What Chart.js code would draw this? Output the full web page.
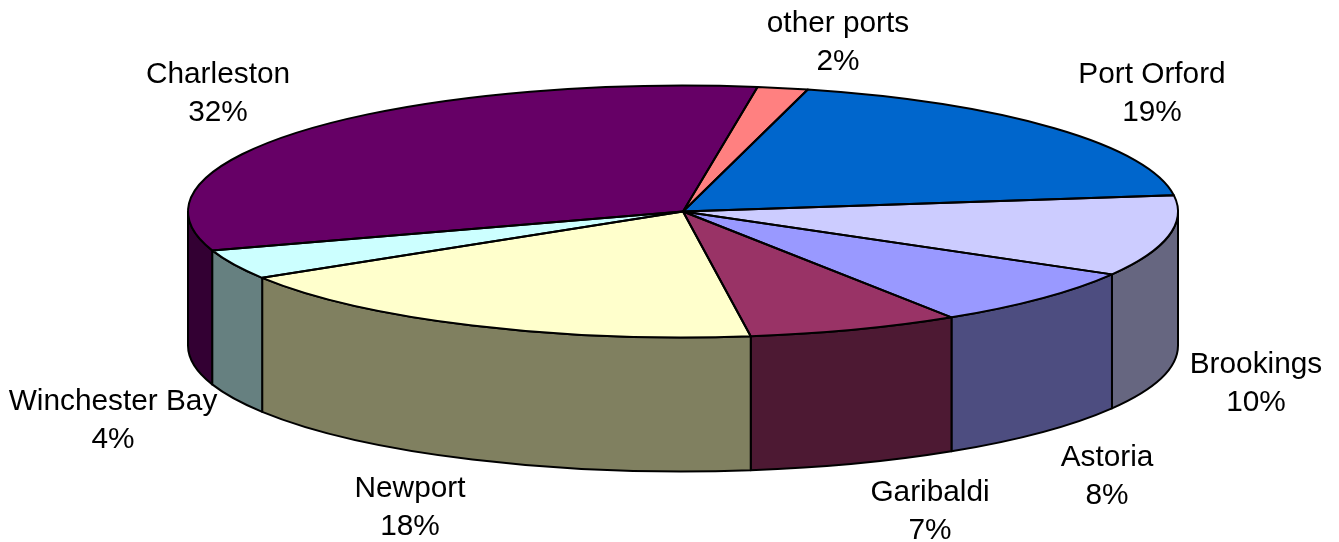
<!DOCTYPE html>
<html><head><meta charset="utf-8">
<style>html,body{margin:0;padding:0;background:#fff}canvas{display:block}</style>
<script src="https://cdn.jsdelivr.net/npm/chart.js@4"></script>
</head><body>
<canvas id="c" width="1339" height="542"></canvas>
<script>
const categories = ['Port Orford','Brookings','Astoria','Garibaldi','Newport','Winchester Bay','Charleston','other ports'];
const shares = [18.9,10.36,7.56,6.94,18.36,3.83,32.4,1.65];
const topColors = ['#0066cc','#ccccff','#9999ff','#993366','#ffffcc','#ccffff','#660066','#ff8080'];
const wallColors = ['#003366','#666680','#4d4d80','#4d1933','#808060','#668080','#330033','#804040'];
const labelAnchors = [[1152,75],[1256,365],[1107,458],[930,493],[410,489],[113,402],[218,75],[838,24]];

const squash = 126/495, depth = 134, lineW = 2;
const pie3d = {
  id:'pie3d',
  beforeDatasetsDraw(chart){
    const ctx = chart.ctx, arcs = chart.getDatasetMeta(0).data;
    ctx.save();
    ctx.lineWidth = lineW; ctx.strokeStyle = '#000'; ctx.lineJoin='round';
    arcs.forEach((a,i)=>{
      const p = a.getProps(['x','y','startAngle','endAngle','outerRadius']);
      [[0,Math.PI],[2*Math.PI,3*Math.PI],[-2*Math.PI,-Math.PI]].forEach(([lo,hi])=>{
        const s = Math.max(p.startAngle,lo), e = Math.min(p.endAngle,hi);
        if(e<=s) return;
        const ry = p.outerRadius*squash;
        ctx.beginPath();
        ctx.ellipse(p.x,p.y,p.outerRadius,ry,0,s,e);
        ctx.ellipse(p.x,p.y+depth,p.outerRadius,ry,0,e,s,true);
        ctx.closePath();
        ctx.fillStyle = wallColors[i];
        ctx.fill(); ctx.stroke();
      });
    });
    ctx.restore();
    ctx.save();
    const a0 = arcs[0];
    ctx.translate(a0.x,a0.y); ctx.scale(1,squash); ctx.translate(-a0.x,-a0.y);
  },
  afterDatasetsDraw(chart){
    const ctx = chart.ctx, arcs = chart.getDatasetMeta(0).data;
    ctx.restore();
    ctx.save();
    ctx.lineWidth = lineW; ctx.strokeStyle = '#000'; ctx.lineJoin='round';
    arcs.forEach(a=>{
      const p = a.getProps(['x','y','startAngle','endAngle','outerRadius']);
      ctx.beginPath();
      ctx.moveTo(p.x,p.y);
      ctx.ellipse(p.x,p.y,p.outerRadius,p.outerRadius*squash,0,p.startAngle,p.endAngle);
      ctx.closePath();
      ctx.stroke();
    });
    ctx.fillStyle='#000';
    ctx.font='29.8px "Liberation Sans", Arial, sans-serif';
    ctx.textAlign='center'; ctx.textBaseline='middle';
    categories.forEach((name,i)=>{
      const [x,y]=labelAnchors[i];
      ctx.fillText(name,x,y);
      ctx.fillText(Math.round(shares[i])+'%',x,y+38);
    });
    ctx.restore();
  }
};
new Chart(document.getElementById('c'),{
  type:'pie',
  data:{labels:categories,datasets:[{data:shares,backgroundColor:topColors,borderWidth:0}]},
  options:{
    responsive:false,animation:false,
    rotation:14.6,radius:495,
    layout:{padding:{left:27,bottom:119}},
    plugins:{legend:{display:false},tooltip:{enabled:false}}
  },
  plugins:[pie3d]
});
</script>
</body></html>
